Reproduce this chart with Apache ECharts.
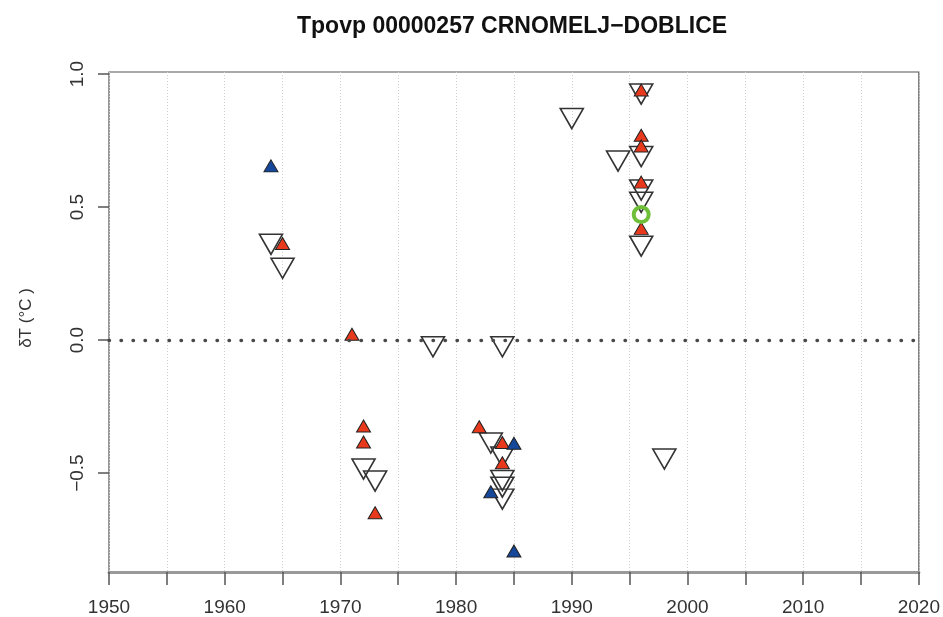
<!DOCTYPE html>
<html>
<head>
<meta charset="utf-8">
<script src="https://cdn.jsdelivr.net/npm/echarts@6/dist/echarts.min.js"></script>
<style>html,body{margin:0;padding:0;background:#fff}#c{width:943px;height:617px}</style>
</head>
<body>
<div id="c"></div>
<script>
// Open (unfilled) down-pointing triangles
var openYears = [1964, 1965, 1978, 1984, 1972, 1973, 1983, 1984, 1984, 1984, 1984, 1990, 1996, 1996, 1994, 1996, 1996, 1996, 1998];
var openVals  = [0.36, 0.27, -0.025, -0.025, -0.485, -0.53, -0.387, -0.44, -0.528, -0.553, -0.598, 0.833, 0.925, 0.69, 0.673, 0.564, 0.518, 0.353, -0.447];
// Red up triangles
var redYears = [1965, 1971, 1972, 1972, 1973, 1982, 1984, 1984, 1996, 1996, 1996, 1996, 1996];
var redVals  = [0.363, 0.022, -0.323, -0.383, -0.649, -0.326, -0.385, -0.461, 0.94, 0.77, 0.73, 0.594, 0.42];
// Blue up triangles
var blueYears = [1964, 1985, 1983, 1985];
var blueVals  = [0.655, -0.388, -0.57, -0.793];
// Green circle
var greenYears = [1996];
var greenVals  = [0.472];
// Axis ticks
var xTicks = [1950, 1960, 1970, 1980, 1990, 2000, 2010, 2020];
var yTicks = [-0.5, 0, 0.5, 1.0];
var titleText = 'Tpovp 00000257 CRNOMELJ\u2212DOBLICE';
var yName = '\u03B4T (\u00B0C )';

function pairs(xs, ys){ return xs.map(function(x,i){ return [x, ys[i]]; }); }
var FONT = 'Liberation Sans, Arial, Helvetica, sans-serif';

var chart = echarts.init(document.getElementById('c'), null, {renderer:'canvas'});
chart.setOption({
  animation: false,
  backgroundColor: '#fff',
  title: {
    text: titleText, left: 292, top: 10,
    textStyle: {fontFamily: FONT, fontWeight: 'bold', fontSize: 23, color: '#111'}
  },
  grid: {left: 109, right: 24, top: 72, bottom: 45, show: true, borderColor: '#555', borderWidth: 1.2, backgroundColor: 'transparent'},
  xAxis: {
    type: 'value', min: 1950, max: 2020, interval: 5,
    axisLine: {show: true, onZero: false, lineStyle: {color: '#999', width: 3}},
    axisTick: {show: true, length: 13, lineStyle: {color: '#555', width: 1.5}},
    axisLabel: {
      margin: 26, fontFamily: FONT, fontSize: 19, color: '#333',
      formatter: function(v){ return xTicks.indexOf(v) >= 0 ? String(v) : ''; }
    },
    splitLine: {show: true, lineStyle: {color: '#cfcfcf', type: [1, 2], width: 1}}
  },
  yAxis: {
    type: 'value', min: -0.872, max: 1.008,
    name: yName, nameLocation: 'middle', nameGap: 74, nameRotate: 90,
    nameTextStyle: {fontFamily: FONT, fontSize: 17, color: '#333', padding: [0, 0, 0, 8]},
    axisLine: {show: false},
    axisTick: {show: true, length: 11, customValues: yTicks, lineStyle: {color: '#555', width: 1.5}},
    axisLabel: {
      show: true, rotate: 90, margin: 22, customValues: yTicks,
      fontFamily: FONT, fontSize: 19, color: '#333',
      formatter: function(v){ var s = Math.abs(v).toFixed(1); return v < 0 ? '\u2212' + s : s; }
    },
    splitLine: {show: false}
  },
  series: [
    {
      type: 'scatter', name: 'open', data: pairs(openYears, openVals),
      symbol: 'triangle', symbolRotate: 180, symbolSize: [23, 20],
      itemStyle: {color: 'rgba(255,255,255,0)', borderColor: '#333', borderWidth: 1.6, opacity: 1},
      z: 2,
      markLine: {
        silent: true, symbol: 'none', label: {show: false},
        lineStyle: {color: '#4a4a4a', type: [0.5, 11.5], width: 3.4, cap: 'round', opacity: 1},
        data: [{yAxis: 0}]
      }
    },
    {
      type: 'scatter', name: 'red', data: pairs(redYears, redVals),
      symbol: 'triangle', symbolSize: [14, 12],
      itemStyle: {color: '#e8391d', borderColor: '#222', borderWidth: 1, opacity: 1}, z: 3
    },
    {
      type: 'scatter', name: 'blue', data: pairs(blueYears, blueVals),
      symbol: 'triangle', symbolSize: [14, 12],
      itemStyle: {color: '#15479b', borderColor: '#222', borderWidth: 1, opacity: 1}, z: 3
    },
    {
      type: 'scatter', name: 'green', data: pairs(greenYears, greenVals),
      symbol: 'circle', symbolSize: 15,
      itemStyle: {color: 'rgba(255,255,255,0)', borderColor: '#6fbf3a', borderWidth: 4, opacity: 1}, z: 4
    }
  ]
});
</script>
</body>
</html>
